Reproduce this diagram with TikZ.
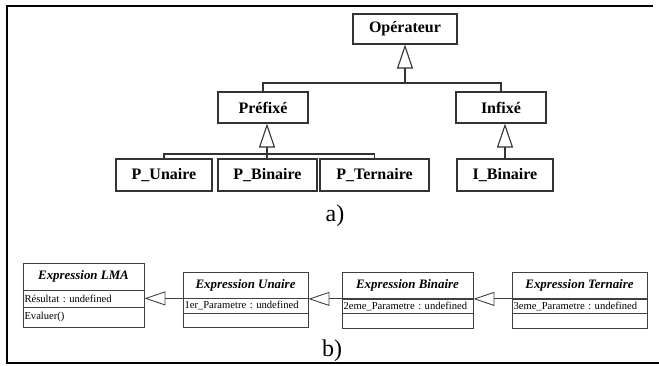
\documentclass[tikz,border=0pt]{standalone}
\usepackage{fontspec}
\setmainfont{Liberation Serif}
\usetikzlibrary{arrows.meta}
\begin{document}
\frenchspacing
\begin{tikzpicture}[x=1pt,y=-1pt,
  cls/.style={draw=black!80, line width=1.1pt, fill=white, inner sep=0pt,
    minimum height=31pt, font=\fontsize{16}{16}\selectfont\bfseries},
  lnk/.style={draw=black!80, line width=1.1pt},
  inh/.style={lnk, -{Triangle[open, length=24pt, width=16pt, line width=1.1pt]}},
  ttl/.style={draw=black!75, line width=0.8pt, inner sep=0pt,
    font=\fontsize{12.9}{13}\selectfont\bfseries\itshape},
  att/.style={draw=black!75, line width=0.8pt, inner xsep=1.5pt, inner ysep=0pt,
    align=left, font=\fontsize{10.6}{12}\selectfont},
  inhb/.style={draw=black!75, line width=0.9pt, -{Triangle[open, length=21pt, width=14pt, line width=0.9pt]}},
  lbl/.style={font=\fontsize{24}{24}\selectfont, inner sep=0pt}
]
\useasboundingbox (0,0) rectangle (659,365);
% frame
\draw[line width=2.2pt] (653,6) -- (7,6) -- (7,363) -- (659,363);

% ---- part a ----
\node[cls, minimum width=104pt, minimum height=30pt] (op) at (405,29) {Opérateur};
\node[cls, minimum width=90pt] (pre) at (263,107.5) {Préfixé};
\node[cls, minimum width=90pt] (inf) at (501,107.5) {Infixé};
\node[cls, minimum width=96pt, minimum height=32pt] (pu) at (164,175) {P\_Unaire};
\node[cls, minimum width=99pt, minimum height=32pt] (pb) at (267.5,175) {P\_Binaire};
\node[cls, minimum width=109pt, minimum height=32pt] (pt) at (374.5,175) {P\_Ternaire};
\node[cls, minimum width=96pt, minimum height=32pt] (ib) at (505,175) {I\_Binaire};

\coordinate (j1) at (405,83);
\coordinate (j2) at (267,154);
\draw[inh] (j1) -- (op.south);
\draw[lnk] (pre.north) |- (j1) -| (inf.north);
\draw[inh] (j2) -- (j2 |- pre.south);
\draw[lnk] (pu.north) |- (j2) -| (pt.north);
\draw[lnk] (j2) -- (j2 |- pb.north);
\draw[inh] (ib.north) -- (ib.north |- inf.south);

\node[lbl] (la) at (335,216) {a)};

% ---- part b ----
\node[ttl, minimum width=121pt, minimum height=27pt] (lmaT) at (83.5,276.5) {Expression LMA};
\node[att, text width=118pt, minimum height=17pt] (lmaA) at (83.5,298.5) {Résultat : undefined};
\node[att, text width=118pt, minimum height=20pt] (lmaM) at (83.5,317) {Evaluer()};

\node[ttl, minimum width=125pt, minimum height=26pt] (uT) at (245.5,285) {Expression Unaire};
\node[att, text width=122pt, minimum height=15pt] (uA) at (245.5,305.5) {1er\_Parametre : undefined};
\node[att, text width=122pt, minimum height=14pt] (uM) at (245.5,320) {};

\node[ttl, minimum width=131pt, minimum height=26pt] (bT) at (407.5,285.5) {Expression Binaire};
\node[att, text width=128pt, minimum height=14pt] (bA) at (407.5,306) {2eme\_Parametre : undefined};
\node[att, text width=128pt, minimum height=15pt] (bM) at (407.5,320.5) {};

\node[ttl, minimum width=135pt, minimum height=26pt] (tT) at (579.5,285.5) {Expression Ternaire};
\node[att, text width=132pt, minimum height=14pt] (tA) at (579.5,306) {3eme\_Parametre : undefined};
\node[att, text width=132pt, minimum height=15pt] (tM) at (579.5,320.5) {};

\draw[inhb] (uT.south west) -- (uT.south west -| lmaA.east);
\draw[inhb] (bT.south west) -- (bT.south west -| uA.east);
\draw[inhb] (tT.south west) -- (tT.south west -| bA.east);

\node[lbl] (lb) at (332,351) {b)};
\end{tikzpicture}
\end{document}
